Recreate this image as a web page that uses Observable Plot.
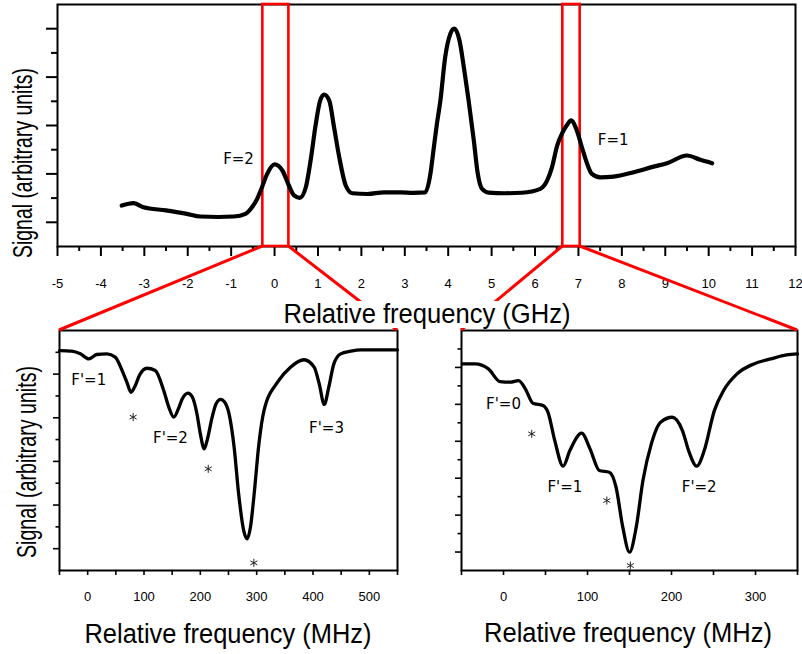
<!DOCTYPE html>
<html><head><meta charset="utf-8">
<script src="https://cdn.jsdelivr.net/npm/d3@7"></script>
<script src="https://cdn.jsdelivr.net/npm/@observablehq/plot@0.6"></script>
<style>
html,body{margin:0;padding:0;background:#fff;}
#fig{position:relative;width:802px;height:654px;overflow:hidden;background:#fff;}
</style></head><body><div id="fig"></div>
<script>
// ---------- data ----------
// Top panel: broad scan (GHz)
const topFreq = [-3.52,-3.25,-3.02,-2.5,-2.02,-1.71,-1.3,-0.94,-0.67,-0.52,-0.40,-0.29,-0.17,0.0,0.18,0.33,0.45,0.58,0.72,0.83,0.95,1.05,1.14,1.26,1.37,1.49,1.64,1.79,2.14,2.52,2.9,3.2,3.47,3.59,3.66,3.74,3.82,3.93,4.05,4.14,4.26,4.36,4.47,4.59,4.68,4.78,4.93,5.3,5.7,6.12,6.28,6.39,6.51,6.62,6.74,6.83,6.95,7.08,7.2,7.31,7.5,7.81,8.27,8.73,9.04,9.5,9.81,10.08];
const topSignal = [1.69,1.79,1.62,1.49,1.35,1.24,1.22,1.24,1.35,1.62,1.97,2.45,3.0,3.39,3.14,2.52,2.11,2.01,2.45,3.55,5.07,6.03,6.28,6.03,4.93,3.69,2.52,2.2,2.17,2.24,2.24,2.22,2.24,3.0,3.97,5.07,6.03,7.82,8.79,9.0,8.51,7.41,6.03,4.38,3.02,2.38,2.23,2.2,2.22,2.38,2.73,3.27,4.17,4.66,5.03,5.21,4.86,4.1,3.42,3.0,2.86,2.89,3.07,3.3,3.44,3.76,3.58,3.44];
const topDomainX = [-5, 12];
const topDomainY = [0, 10];
const topMajorX = [-5,-4,-3,-2,-1,0,1,2,3,4,5,6,7,8,9,10,11,12];
const topMinorX = [-4.5,-3.5,-2.5,-1.5,-0.5,0.5,1.5,2.5,3.5,4.5,5.5,6.5,7.5,8.5,9.5,10.5,11.5];
const topLongY = [1,3,5,7,9];
const topShortY = [2,4,6,8];
const topLabelText = ["F=2","F=1"];
const topLabelX = [-0.83, 7.80];
const topLabelY = [3.61, 4.38];
// zoom windows marked by the red boxes (GHz)
const zoomLo = [-0.27, 6.64];
const zoomHi = [0.33, 7.04];

// Bottom-left panel: F=2 (MHz)
const blFreq = [-50,-28,-13,2,16,34,49,61,70,77,84,92,105,120,135,144,153,161,168,178,186,194,200,207,212,221,228,236,243,251,260,268,277,283,289,295,304,313,337,360,384,402,411,420,428,437,449,467,485,550];
const blSignal = [10.08,10.05,9.93,9.70,9.90,9.93,9.78,9.17,8.6,8.17,8.45,8.95,9.27,9.17,8.25,7.49,7.03,7.41,7.87,8.13,7.94,7.18,6.26,5.58,5.96,7.03,7.64,7.84,7.72,7.18,5.65,3.51,1.83,1.45,1.99,3.36,5.81,7.33,8.63,9.32,9.66,9.32,8.56,7.61,8.40,9.47,9.93,10.05,10.11,10.11];
const blDomainX = [-50, 550];
const blDomainY = [0, 11];
const blTicksX = [-50,0,50,100,150,200,250,300,350,400,450,500,550];
const blLongY = [1,3,5,7,9];
const blShortY = [2,4,6,8,10];
const blLabelText = ["F'=1","F'=2","F'=3"];
const blLabelX = [2, 147, 424];
const blLabelY = [8.71, 6.08, 6.54];
const blStarX = [80.7, 214, 295];
const blStarY = [7.03, 4.66, 0.35];

// Bottom-right panel: F=1 (MHz)
const brFreq = [-49,-34,-18,-4,8,18,26,35,47,53,61,71,79,93,103,114,126,134,142,150,158,166,176,187,201,213,221,230,239,251,262,278,298,318,337,350];
const brSignal = [11.19,11.19,10.92,10.23,10.2,10.29,9.84,9.06,8.94,8.57,7.04,5.65,6.5,7.44,6.59,5.42,5.32,4.51,2.35,0.99,2.35,4.87,6.86,8.03,8.3,7.58,6.41,5.65,6.5,8.66,9.75,10.65,11.19,11.46,11.68,11.73];
const brDomainX = [-50, 350];
const brDomainY = [0, 13];
const brTicksX = [-50,0,50,100,150,200,250,300,350];
const brLongY = [1,3,5,7,9,11];
const brShortY = [2,4,6,8,10,12];
const brLabelText = ["F'=0","F'=1","F'=2"];
const brLabelX = [0, 73, 233];
const brLabelY = [9.03, 4.51, 4.51];
const brStarX = [33.6, 123, 151];
const brStarY = [7.4, 3.79, 0.27];

const xTitleGHz = "Relative frequency (GHz)";
const xTitleMHz = "Relative frequency (MHz)";
const yTitle = "Signal (arbitrary units)";

// ---------- helpers ----------
const zip = (xs, ys) => xs.map((x, i) => ({x, y: ys[i]}));
const lab = (t, xs, ys) => t.map((s, i) => ({t: s, x: xs[i], y: ys[i]}));
const tickFont = '"Liberation Sans", Arial, sans-serif';
const annFont = '"DejaVu Sans", sans-serif';
const baseStyle = {fontFamily: tickFont, fontSize: "13px", color: "#000", background: "transparent", overflow: "visible"};
const fig = document.getElementById("fig");
function place(svg, left, top) {
  svg.style.position = "absolute"; svg.style.left = left + "px"; svg.style.top = top + "px";
  svg.style.maxWidth = "none";
  fig.appendChild(svg);
}

// ---------- top panel ----------
const topPos = {left: 0, top: 0};
const topPlot = Plot.plot({
  width: 802, height: 300,
  marginLeft: 57, marginRight: 7, marginTop: 4, marginBottom: 54,
  x: {domain: topDomainX},
  y: {domain: topDomainY},
  style: baseStyle,
  marks: [
    Plot.axisX({ticks: topMajorX, tickSize: 10, tickPadding: 22, strokeWidth: 2, label: null, fontSize: 13, fontFamily: tickFont, tickFormat: d => String(d)}),
    Plot.axisX({ticks: topMinorX, tickSize: 5, strokeWidth: 2, label: null, tickFormat: () => ""}),
    Plot.axisY({ticks: topLongY, tickSize: 11, strokeWidth: 2, label: null, tickFormat: () => ""}),
    Plot.axisY({ticks: topShortY, tickSize: 6, strokeWidth: 2, label: null, tickFormat: () => ""}),
    Plot.frame({stroke: "#000", strokeWidth: 2}),
    Plot.rect(zoomLo.map((lo, i) => ({lo, hi: zoomHi[i]})), {x1: "lo", x2: "hi", fill: "none", stroke: "#f00", strokeWidth: 2.6}),
    Plot.line(zip(topFreq, topSignal), {x: "x", y: "y", stroke: "#000", strokeWidth: 4.2, curve: "monotone-x"}),
    Plot.text(lab(topLabelText, topLabelX, topLabelY), {x: "x", y: "y", text: "t", fontFamily: annFont, fontSize: 15, fill: "#000"})
  ]
});
place(topPlot, topPos.left, topPos.top);

// ---------- bottom panels ----------
function bottomPanel(cfg) {
  return Plot.plot({
    width: cfg.width, height: 290,
    marginLeft: cfg.ml, marginRight: cfg.mr, marginTop: 5, marginBottom: 45,
    x: {domain: cfg.dx},
    y: {domain: cfg.dy},
    style: baseStyle,
    marks: [
      Plot.axisX({ticks: cfg.ticksX, tickSize: 5, tickPadding: 16, strokeWidth: 1.6, label: null, fontSize: 13, fontFamily: tickFont, tickFormat: d => d % 100 === 0 ? String(d) : ""}),
      Plot.axisY({ticks: cfg.longY, tickSize: 6, strokeWidth: 1.6, label: null, tickFormat: () => ""}),
      Plot.axisY({ticks: cfg.shortY, tickSize: 3.5, strokeWidth: 1.6, label: null, tickFormat: () => ""}),
      Plot.frame({stroke: "#000", strokeWidth: 2}),
      Plot.line(zip(cfg.fx, cfg.sy), {x: "x", y: "y", stroke: "#000", strokeWidth: 3.3, curve: "monotone-x"}),
      Plot.text(cfg.labels, {x: "x", y: "y", text: "t", fontFamily: annFont, fontSize: 15, fill: "#000"}),
      Plot.dot(cfg.stars, {x: "x", y: "y", symbol: "asterisk", r: 3.8, stroke: "#222", strokeWidth: 1})
    ]
  });
}
const blPos = {left: 0, top: 325};
const blPlot = bottomPanel({width: 420, ml: 59, mr: 23, dx: blDomainX, dy: blDomainY, ticksX: blTicksX,
  longY: blLongY, shortY: blShortY, fx: blFreq, sy: blSignal,
  labels: lab(blLabelText, blLabelX, blLabelY), stars: zip(blStarX, blStarY)});
place(blPlot, blPos.left, blPos.top);

const brPos = {left: 420, top: 325};
const brPlot = bottomPanel({width: 382, ml: 41, mr: 5, dx: brDomainX, dy: brDomainY, ticksX: brTicksX,
  longY: brLongY, shortY: brShortY, fx: brFreq, sy: brSignal,
  labels: lab(brLabelText, brLabelX, brLabelY), stars: zip(brStarX, brStarY)});
place(brPlot, brPos.left, brPos.top);

// ---------- overlay: zoom connectors and axis titles ----------
const tx = topPlot.scale("x"), ty = topPlot.scale("y");
const boxBottom = topPos.top + ty.apply(topDomainY[0]);
function corners(plot, pos, dom) {
  const sx = plot.scale("x"), sy = plot.scale("y");
  return {l: pos.left + sx.apply(sx.domain[0]), r: pos.left + sx.apply(sx.domain[1]),
          t: pos.top + sy.apply(dom[1]), b: pos.top + sy.apply(dom[0])};
}
const blC = corners(blPlot, blPos, blDomainY);
const brC = corners(brPlot, brPos, brDomainY);
const panels = [blC, brC];

const ov = d3.create("svg").attr("width", 802).attr("height", 654)
  .style("position", "absolute").style("left", "0px").style("top", "0px").style("pointer-events", "none");
zoomLo.forEach((lo, i) => {
  const p = panels[i];
  const xl = topPos.left + tx.apply(lo), xr = topPos.left + tx.apply(zoomHi[i]);
  ov.append("line").attr("x1", xl).attr("y1", boxBottom).attr("x2", p.l).attr("y2", p.t)
    .attr("stroke", "#f00").attr("stroke-width", 3);
  ov.append("line").attr("x1", xr).attr("y1", boxBottom).attr("x2", p.r).attr("y2", p.t)
    .attr("stroke", "#f00").attr("stroke-width", 3);
});
// top x title with white backing (hides connector lines behind it)
const topCx = topPos.left + (tx.apply(topDomainX[0]) + tx.apply(topDomainX[1])) / 2 + 1;
ov.append("rect").attr("x", topCx - 148).attr("y", boxBottom + 55).attr("width", 296).attr("height", 27).attr("fill", "#fff");
function title(x, y, txt, len, rot) {
  const g = ov.append("g").attr("transform", rot ? `translate(${x},${y}) rotate(-90)` : `translate(${x},${y})`);
  g.append("text").attr("x", 0).attr("y", 0).attr("text-anchor", "middle")
    .attr("font-family", tickFont).attr("font-size", 27).attr("fill", "#000")
    .attr("textLength", len).attr("lengthAdjust", "spacingAndGlyphs").text(txt);
}
title(topCx, boxBottom + 77, xTitleGHz, 287, false);
title((blC.l + blC.r) / 2, blC.b + 73, xTitleMHz, 287, false);
title((brC.l + brC.r) / 2 - 1, brC.b + 72, xTitleMHz, 288, false);
title(32, (topPos.top + ty.apply(topDomainY[1]) + boxBottom) / 2 + 38, yTitle, 190, true);
title(36, (blC.t + blC.b) / 2 + 12, yTitle, 192, true);
fig.appendChild(ov.node());
</script></body></html>
